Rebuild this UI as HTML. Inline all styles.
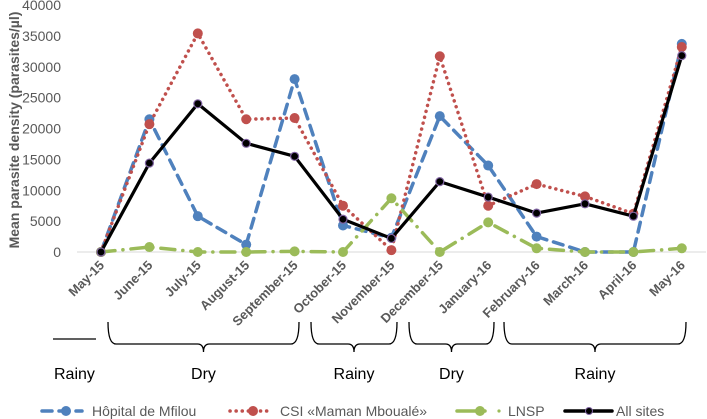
<!DOCTYPE html>
<html><head><meta charset="utf-8"><style>
body{margin:0;background:#fff;}
svg{display:block;font-family:"Liberation Sans",sans-serif;}
</style></head><body>
<svg id="c" width="707" height="419"></svg>
<script>
const categories=["May-15","June-15","July-15","August-15","September-15","October-15","November-15","December-15","January-16","February-16","March-16","April-16","May-16"];
const hopital=[0,21500,5800,1200,28000,4300,2300,22000,14000,2500,0,0,33700];
const csi=[0,20700,35400,21500,21700,7500,300,31700,7500,11000,9000,6200,33200];
const lnsp=[0,800,0,0,100,0,8700,0,4800,600,0,0,600];
const allSites=[0,14400,24000,17600,15500,5300,2200,11400,8900,6300,7800,5800,31800];
const yTicks=[0,5000,10000,15000,20000,25000,30000,35000,40000];
const seasons=[["Dry",1,5],["Rainy",5,7],["Dry",7,9],["Rainy",9,12]];

const NS="http://www.w3.org/2000/svg";
const svg=document.getElementById('c');
function x(i){return 101+i*48.4;}
function y(v){return 252-v*247/40000;}
function mk(t,a,p){const e=document.createElementNS(NS,t);for(const k in a)e.setAttribute(k,a[k]);(p||svg).appendChild(e);return e;}

const ax=mk('line',{x1:77,x2:706,y1:y(0),y2:y(0),stroke:'#d9d9d9','stroke-width':1});


yTicks.forEach(v=>{
  const t=mk('text',{x:61,y:y(v)+5,'text-anchor':'end','font-size':14,fill:'#595959'});
  t.textContent=v;
  
  
});
const yt=mk('text',{transform:'translate(19,130) rotate(-90)','text-anchor':'middle','font-size':14,'font-weight':'bold',fill:'#595959'});
yt.textContent='Mean parasite density (parasites/µl)';


categories.forEach((c,i)=>{
  const t=mk('text',{transform:`translate(${x(i)+4},${y(0)+14}) rotate(-45)`,'text-anchor':'end','font-size':13,'font-weight':'bold',fill:'#595959'});
  t.textContent=c;
  
  
});
function series(data,color,dash,w,r,name,stroke2){
  const g=mk('g',{});
  
  
  mk('polyline',{points:data.map((v,i)=>x(i)+','+y(v)).join(' '),fill:'none',stroke:color,'stroke-width':w,'stroke-dasharray':dash,'stroke-linecap':'round','stroke-linejoin':'round'},g);
  data.forEach((v,i)=>{
    const m=mk('circle',{cx:x(i),cy:y(v),r:r,fill:color,stroke:stroke2||'none','stroke-width':1.2},g);
    
    
  });
}
series(hopital,'#4f81bd','10 7',3.5,5,'series-hopital');
series(csi,'#c0504d','0.1 6',3.5,5,'series-csi');
series(lnsp,'#9bbb59','14 8 0.1 8',3.5,5,'series-lnsp');
series(allSites,'#000','',3.2,4,'series-all-sites','#8064a2');

function brace(x1,x2,top,bot,tip){
  const m=(x1+x2)/2;
  return `M${x1},${top} Q${x1},${bot} ${x1+8},${bot} L${m-6},${bot} Q${m},${bot} ${m},${tip} Q${m},${bot} ${m+6},${bot} L${x2-8},${bot} Q${x2},${bot} ${x2},${top}`;
}
const bx=[[108,299],[311,397],[409,494],[504,686]];
seasons.forEach((s,k)=>{
  const [a,b]=bx[k];
  const p=mk('path',{d:brace(a,b,322,344,352),fill:'none',stroke:'#000','stroke-width':1.3});
  
  
  const t=mk('text',{x:(a+b)/2,y:379,'text-anchor':'middle','font-size':16,fill:'#000'});
  t.textContent=s[0];
  
  
});
const l0=mk('line',{x1:53,x2:96,y1:339,y2:339,stroke:'#000','stroke-width':1.3});


const t0=mk('text',{x:54,y:379,'font-size':16,fill:'#000'});
t0.textContent='Rainy';



const leg=[['Hôpital de Mfilou','#4f81bd','10 7',42,82,66,92,''],['CSI «Maman Mboualé»','#c0504d','0.1 6',230,270,253,280,''],['LNSP','#9bbb59','',457,485,480,508,''],['All sites','#000','',565,612,589,616,'#8064a2']];
leg.forEach(l=>{
  const g=mk('g',{});
  
  
  mk('line',{x1:l[3],x2:l[4],y1:411,y2:411,stroke:l[1],'stroke-width':3.5,'stroke-dasharray':l[2],'stroke-linecap':'round'},g);
  mk('circle',{cx:l[5],cy:411,r:l[7]?3.5:5,fill:l[1],stroke:l[7]||'none'},g);
  if(l[0]==='LNSP')mk('circle',{cx:499,cy:411,r:1.6,fill:l[1]},g);
  const t=mk('text',{x:l[6],y:416,'font-size':14,fill:'#595959'},g);
  t.textContent=l[0];
});
</script>
</body></html>
